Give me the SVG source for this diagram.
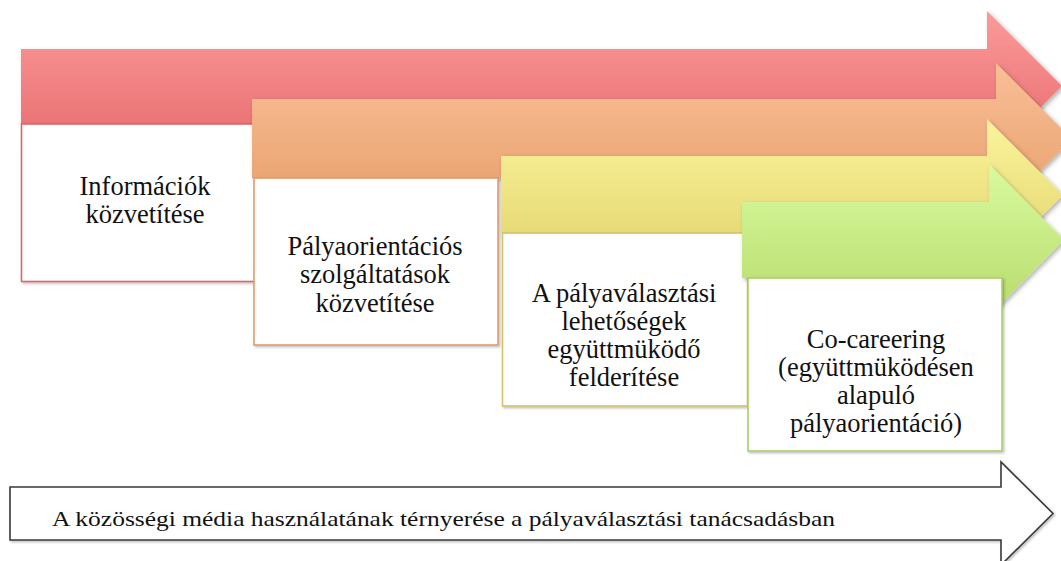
<svg xmlns="http://www.w3.org/2000/svg" width="1061" height="561" viewBox="0 0 1061 561">
  <defs>
    <linearGradient id="gRed" x1="0" y1="0" x2="0" y2="1">
      <stop offset="0" stop-color="#fc9a9a"/>
      <stop offset="1" stop-color="#e5686a"/>
    </linearGradient>
    <linearGradient id="gOrange" x1="0" y1="0" x2="0" y2="1">
      <stop offset="0" stop-color="#f9bf96"/>
      <stop offset="1" stop-color="#e79e6a"/>
    </linearGradient>
    <linearGradient id="gYellow" x1="0" y1="0" x2="0" y2="1">
      <stop offset="0" stop-color="#fbf49c"/>
      <stop offset="1" stop-color="#e1d26a"/>
    </linearGradient>
    <linearGradient id="gGreen" x1="0" y1="0" x2="0" y2="1">
      <stop offset="0" stop-color="#d9fa9e"/>
      <stop offset="1" stop-color="#b7db6c"/>
    </linearGradient>
    <filter id="shadow" x="-5%" y="-10%" width="115%" height="130%">
      <feDropShadow dx="2" dy="2" stdDeviation="2" flood-color="#000" flood-opacity="0.3"/>
    </filter>
    <filter id="shadowS" x="-5%" y="-10%" width="115%" height="130%">
      <feDropShadow dx="1.5" dy="1.5" stdDeviation="1.2" flood-color="#000" flood-opacity="0.25"/>
    </filter>
  </defs>
  <style>
    .lbl { font-size: 26.5px; fill: #111111; text-anchor: middle; }
    .base { font-size: 22px; fill: #111111; }
    .box { fill: #ffffff; stroke-width: 1.6; }
  </style>
  <rect width="1061" height="561" fill="#ffffff"/>

  <g font-family="'Liberation Serif', 'Times New Roman', serif">
  <g id="stage1">
    <path d="M21,49 L987,49 L987,11 L1062,86 L987,161 L987,124 L21,124 Z" fill="url(#gRed)" filter="url(#shadow)"/>
    <rect class="box" x="21.5" y="124" width="245" height="157.5" stroke="#d9676a" filter="url(#shadowS)"/>
    <text class="lbl" x="145" y="195">Információk</text>
    <text class="lbl" x="145" y="223.3">közvetítése</text>
  </g>

  <g id="stage2">
    <path d="M252,99 L996,99 L996,63 L1072,139 L996,215 L996,178 L252,178 Z" fill="url(#gOrange)" filter="url(#shadow)"/>
    <rect class="box" x="254" y="178" width="244" height="167" stroke="#df9b6a" filter="url(#shadowS)"/>
    <text class="lbl" x="375" y="255">Pályaorientációs</text>
    <text class="lbl" x="375" y="283.3">szolgáltatások</text>
    <text class="lbl" x="375" y="311.6">közvetítése</text>
  </g>

  <g id="stage3">
    <path d="M501,156 L987,156 L987,119 L1063,195 L987,271 L987,233 L501,233 Z" fill="url(#gYellow)" filter="url(#shadow)"/>
    <rect class="box" x="502.5" y="233" width="245" height="173" stroke="#d2c46a" filter="url(#shadowS)"/>
    <text class="lbl" x="624" y="301.5">A pályaválasztási</text>
    <text class="lbl" x="624" y="329.8">lehetőségek</text>
    <text class="lbl" x="624" y="358.1">együttmüködő</text>
    <text class="lbl" x="624" y="386.4">felderítése</text>
  </g>

  <g id="stage4">
    <path d="M742,202 L989,202 L989,164 L1064,240 L989,316 L989,278 L742,278 Z" fill="url(#gGreen)" filter="url(#shadow)"/>
    <rect class="box" x="748" y="278" width="254" height="173" stroke="#a9cf6a" filter="url(#shadowS)"/>
    <text class="lbl" x="876" y="347.5">Co-careering</text>
    <text class="lbl" x="876" y="375.8">(együttmüködésen</text>
    <text class="lbl" x="876" y="404.1">alapuló</text>
    <text class="lbl" x="876" y="432.4">pályaorientáció)</text>
  </g>

  <g id="base-arrow">
    <path d="M10,487 L1001,487 L1001,462 L1053,513.5 L1001,565 L1001,540 L10,540 Z" fill="#ffffff" stroke="#3a3a3a" stroke-width="1.6" stroke-linejoin="miter" filter="url(#shadowS)"/>
    <text class="base" x="52" y="526" textLength="783" lengthAdjust="spacingAndGlyphs">A közösségi média használatának térnyerése a pályaválasztási tanácsadásban</text>
  </g>
  </g>

  <g id="connectors"/>
</svg>
